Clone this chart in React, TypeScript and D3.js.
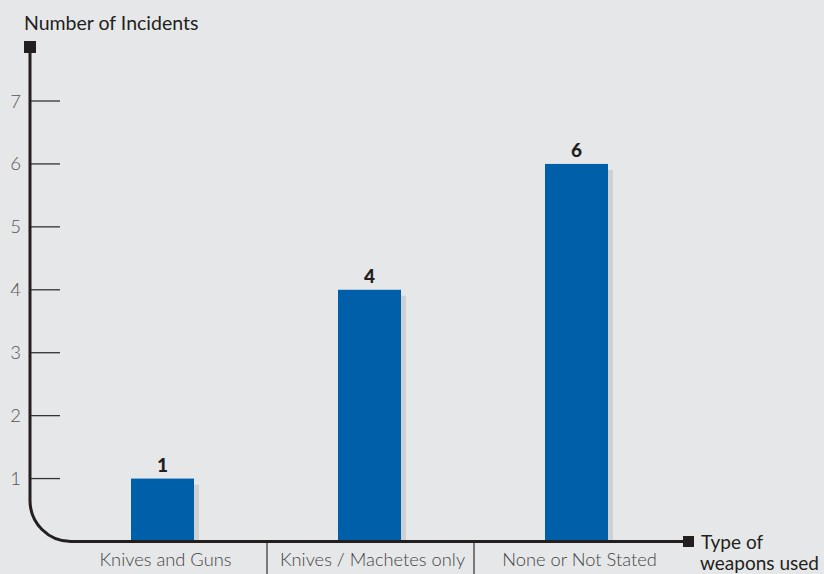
import React from "react";
import * as d3 from "d3";

const categories: string[] = ["Knives and Guns", "Knives / Machetes only", "None or Not Stated"];
const incidents: number[] = [1, 4, 6];
const yTicks: number[] = [1, 2, 3, 4, 5, 6, 7];
const yTitle = "Number of Incidents";
const xTitleLines: string[] = ["Type of", "weapons used"];

const W = 824;
const H = 574;
const FONT = "Lato, 'Open Sans', sans-serif";
const AXIS = "#231f20";
const BAR = "#005fa9";
const SHADOW = "#cfd0d2";

export default function App() {
  const axisX = 30;
  const baseY = 541.5;
  const y = d3.scaleLinear().domain([0, 7]).range([baseY, 101]);
  const x = d3.scaleBand<string>().domain(categories).range([59, 680]).paddingInner(0).paddingOuter(0);
  const barW = 63;
  const r = 41;
  const axisPath = d3.path();
  axisPath.moveTo(axisX, 47);
  axisPath.lineTo(axisX, baseY - r);
  axisPath.arcTo(axisX, baseY, axisX + r, baseY, r);
  axisPath.lineTo(688, baseY);

  return (
    <svg width={W} height={H} style={{ position: "absolute", left: 0, top: 0, display: "block" }} fontFamily={FONT}>
      <rect x={0} y={0} width={W} height={H} fill="#e6e7e8" />
      <text x={24} y={30} fontSize={19.5} fill="#231f20">{yTitle}</text>
      {/* y ticks */}
      {yTicks.map((t) => (
        <g key={t}>
          <line x1={axisX} x2={60} y1={y(t)} y2={y(t)} stroke="#333" strokeWidth={1.3} />
          <text x={21} y={y(t) + 6.5} textAnchor="end" fontSize={18.5} fill="#555" fontWeight={300}>{t}</text>
        </g>
      ))}
      {/* bars */}
      {categories.map((c, i) => {
        const bx = (x(c) as number) + x.bandwidth() / 2 - barW / 2;
        const v = incidents[i];
        return (
          <g key={c}>
            <rect x={bx + 5} y={y(v) + 6} width={barW} height={baseY - y(v) - 6} fill={SHADOW} />
            <rect x={bx} y={y(v)} width={barW} height={baseY - y(v)} fill={BAR} />
            <text x={bx + barW / 2} y={y(v) - 6.5} textAnchor="middle" fontSize={19} fontWeight={900} fill="#231f20">{v}</text>
          </g>
        );
      })}
      {/* separators */}
      {categories.slice(1).map((c) => (
        <line key={c} x1={(x(c) as number) + 1} x2={(x(c) as number) + 1} y1={baseY} y2={H} stroke="#333" strokeWidth={1.2} />
      ))}
      {/* category labels */}
      {categories.map((c) => (
        <text key={c} x={(x(c) as number) + x.bandwidth() / 2 + 3} y={566} textAnchor="middle" fontSize={18.3} fill="#444" fontWeight={300}>{c}</text>
      ))}
      {/* axes */}
      <path d={axisPath.toString()} fill="none" stroke={AXIS} strokeWidth={3} />
      <rect x={24} y={41} width={12} height={12} fill={AXIS} />
      <rect x={683} y={536} width={11} height={11} fill={AXIS} />
      <text x={701} y={549} fontSize={19} fill="#231f20">{xTitleLines[0]}</text>
      <text x={700} y={570} fontSize={19} fill="#231f20">{xTitleLines[1]}</text>
    </svg>
  );
}
